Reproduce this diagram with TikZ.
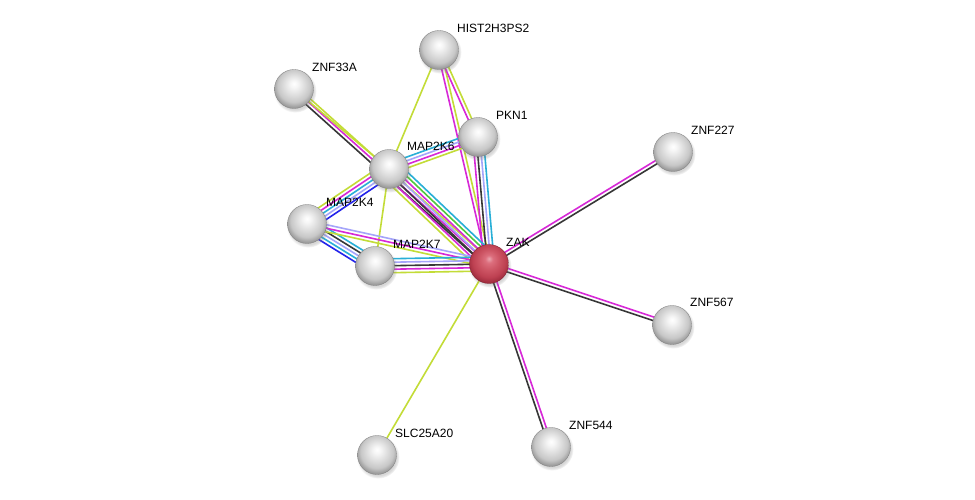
\documentclass[tikz,border=0pt]{standalone}
\usepackage{tikz}
\usepackage{fontspec}
\setmainfont{Liberation Sans}
\usetikzlibrary{calc,backgrounds,shadows}

% evidence colours
\definecolor{txtmine}{RGB}{195,220,55}
\definecolor{experim}{RGB}{215,40,215}
\definecolor{coexpr}{RGB}{55,55,55}
\definecolor{dbase}{RGB}{40,175,215}
\definecolor{cooccur}{RGB}{35,35,235}
\definecolor{homol}{RGB}{165,165,250}
\definecolor{neighb}{RGB}{80,200,60}

\pgfdeclareradialshading{greysphere}{\pgfpoint{0bp}{7bp}}{%
  color(0bp)=(white); color(5bp)=(white!96!black); color(13bp)=(white!87!black);
  color(21bp)=(white!78!black); color(27bp)=(white!60!black); color(33bp)=(white!45!black);
  color(50bp)=(white!45!black)}
\pgfdeclareradialshading{redsphere}{\pgfpoint{0bp}{7bp}}{%
  color(0bp)=({rgb,255:red,235;green,165;blue,175}); color(5bp)=({rgb,255:red,220;green,110;blue,125});
  color(13bp)=({rgb,255:red,205;green,85;blue,100}); color(21bp)=({rgb,255:red,190;green,65;blue,82});
  color(27bp)=({rgb,255:red,160;green,45;blue,62}); color(33bp)=({rgb,255:red,120;green,28;blue,42});
  color(50bp)=({rgb,255:red,120;green,28;blue,42})}

\pgfdeclarelayer{links}
\pgfsetlayers{background,links,main}

\tikzset{
  prot/.style={circle, minimum size=39pt, inner sep=0pt, shading=greysphere,
    draw=white!50!black, line width=0.3pt,
    circular drop shadow={shadow xshift=1pt, shadow yshift=-2pt, opacity=0.3}},
  query/.style={prot, shading=redsphere, draw={rgb,255:red,120;green,30;blue,45}},
  plabel/.style={anchor=west, inner sep=0pt, font=\fontsize{12}{14}\selectfont},
  evid/.style={line width=1.6pt}
}

\newcommand{\strlink}[3]{%
  \foreach \col/\off in {#3}
    \draw[evid,\col] ($(#1)!\off pt!90:(#2)$) -- ($(#2)!\off pt!-90:(#1)$);
}

\begin{document}
\begin{tikzpicture}[x=1pt,y=-1pt]
	\begin{pgfonlayer}{background}
		\fill[white] (0,0) rectangle (975,500);
	\end{pgfonlayer}
	\useasboundingbox (0,0) rectangle (975,500);

	% proteins
	\node[query] (zak) at (489,264) {};
	\node[prot] (hist) at (439,50) {};
	\node[prot] (znf33a) at (294,89) {};
	\node[prot] (pkn1) at (478,137) {};
	\node[prot] (map2k6) at (389,169) {};
	\node[prot] (map2k4) at (307,224) {};
	\node[prot] (map2k7) at (375,266) {};
	\node[prot] (znf227) at (673,152) {};
	\node[prot] (znf567) at (672,325) {};
	\node[prot] (znf544) at (551,447) {};
	\node[prot] (slc) at (377,455) {};

	% names
	\node[plabel] (zaklab) at ([shift={(17,-22)}]zak) {ZAK};
	\node[plabel] (histlab) at ([shift={(18,-22)}]hist) {HIST2H3PS2};
	\node[plabel] (znf33alab) at ([shift={(18,-22)}]znf33a) {ZNF33A};
	\node[plabel] (pkn1lab) at ([shift={(18,-22)}]pkn1) {PKN1};
	\node[plabel] (map2k6lab) at ([shift={(18,-23)}]map2k6) {MAP2K6};
	\node[plabel] (map2k4lab) at ([shift={(19,-22)}]map2k4) {MAP2K4};
	\node[plabel] (map2k7lab) at ([shift={(18,-22)}]map2k7) {MAP2K7};
	\node[plabel] (znf227lab) at ([shift={(18,-22)}]znf227) {ZNF227};
	\node[plabel] (znf567lab) at ([shift={(18,-23)}]znf567) {ZNF567};
	\node[plabel] (znf544lab) at ([shift={(18,-22)}]znf544) {ZNF544};
	\node[plabel] (slclab) at ([shift={(18,-22)}]slc) {SLC25A20};

	% evidence lines
	\begin{pgfonlayer}{links}
		\strlink{hist}{zak}{experim/-1.75, txtmine/1.75}
		\strlink{hist}{pkn1}{experim/-1.75, txtmine/1.75}
		\strlink{hist}{map2k6}{txtmine/0}
		\strlink{znf33a}{zak}{coexpr/-3.5, experim/0, txtmine/3.5}
		\strlink{znf33a}{map2k6}{txtmine/0}
		\strlink{pkn1}{zak}{experim/-5.25, coexpr/-1.75, homol/1.75, dbase/5.25}
		\strlink{map2k6}{pkn1}{txtmine/-5.25, experim/-1.75, homol/1.75, dbase/5.25}
		\strlink{map2k6}{zak}{txtmine/-10.5, experim/-7, coexpr/-3.5, homol/0, experim/3.5, neighb/7, dbase/10.5}
		\strlink{map2k4}{map2k6}{cooccur/-7, homol/-3.5, dbase/0, experim/3.5, txtmine/7}
		\strlink{map2k4}{map2k7}{cooccur/-7, dbase/-3.5, homol/0, coexpr/3.5, dbase/7}
		\strlink{map2k6}{map2k7}{txtmine/0}
		\strlink{map2k4}{zak}{txtmine/-3.5, experim/0, homol/3.5}
		\strlink{map2k7}{zak}{txtmine/-7, experim/-3.5, coexpr/0, homol/3.5, dbase/7}
		\strlink{zak}{znf227}{coexpr/-1.75, experim/1.75}
		\strlink{zak}{znf567}{coexpr/-1.75, experim/1.75}
		\strlink{zak}{znf544}{coexpr/-1.75, experim/1.75}
		\strlink{zak}{slc}{txtmine/0}
	\end{pgfonlayer}
\end{tikzpicture}
\end{document}
